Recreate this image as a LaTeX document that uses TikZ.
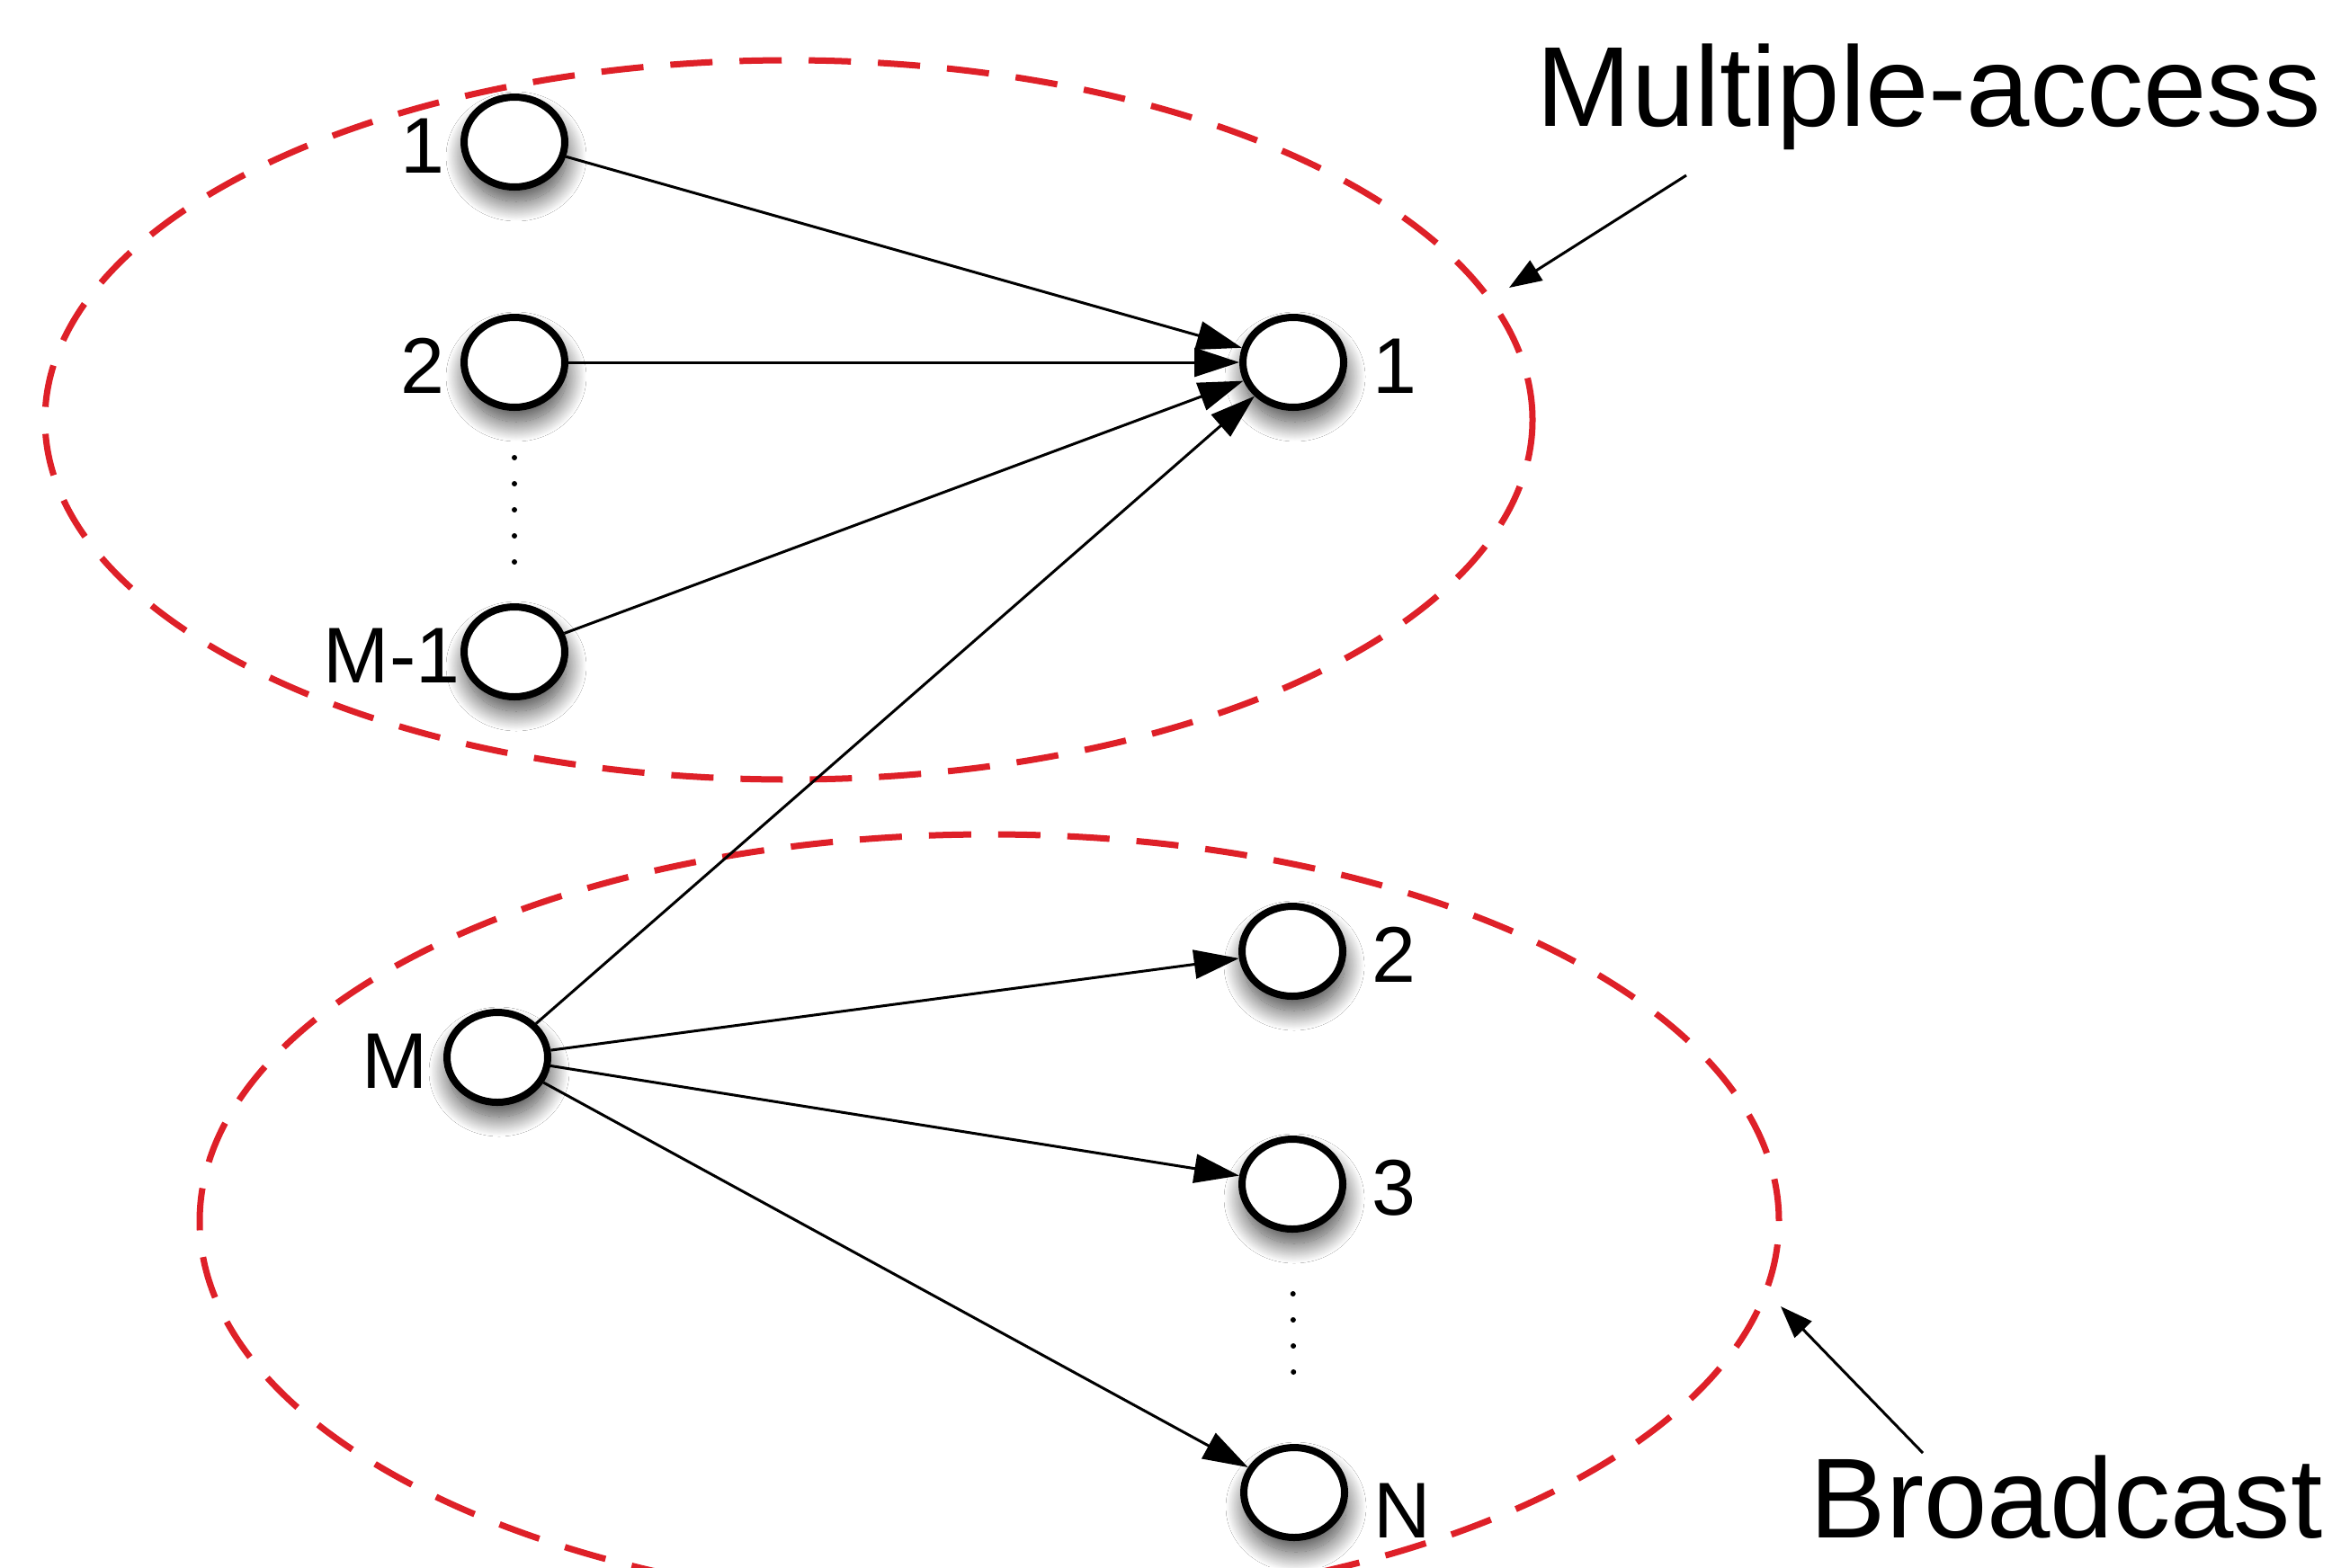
\documentclass[tikz,border=0pt]{standalone}
\usepackage{fontspec}
\setmainfont{Liberation Sans}
\usetikzlibrary{arrows.meta,shapes.geometric,shadows.blur}
\definecolor{groupred}{RGB}{222,32,40}
\begin{document}
\begin{tikzpicture}[
  station/.style={ellipse, draw=black, line width=0.08cm, fill=white,
    minimum width=1.12cm, minimum height=1.0cm, inner sep=0pt,
    blur shadow={shadow xshift=0.02cm, shadow yshift=-0.16cm,
      shadow blur radius=0.22cm, shadow blur steps=30, shadow opacity=75}},
  lab/.style={font=\fontsize{25pt}{28pt}\selectfont, inner sep=0pt},
  llab/.style={label={[lab, yshift=-0.04cm, label distance=0.17cm]left:#1}},
  rlab/.style={label={[lab, yshift=-0.04cm, label distance=0.28cm]right:#1}},
  link/.style={line width=0.03cm, -{Triangle[length=0.5cm,width=0.32cm]}},
  pointer/.style={line width=0.03cm, -{Triangle[length=0.36cm,width=0.26cm]}},
  group/.style={draw=groupred, line width=0.07cm,
    dash pattern=on 0.47cm off 0.3cm},
  dotsline/.style={line width=0.06cm, line cap=round,
    dash pattern=on 0pt off 0.29cm},
  caption/.style={font=\fontsize{36pt}{40pt}\selectfont, inner sep=0pt}
]
\useasboundingbox (0,0) rectangle (26.13,-17.43);
\clip (0,0) rectangle (26.13,-17.43);
\fill[white] (0,0) rectangle (26.13,-17.43);

% the two groups of stations
\draw[group] (8.77,-4.67) ellipse [x radius=8.27cm, y radius=4.0cm];
\draw[group] (11.0,-13.58) ellipse [x radius=8.78cm, y radius=4.3cm];

% senders
\node[station, llab=1] (l1) at (5.72,-1.58) {};
\node[station, llab=2] (l2) at (5.72,-4.03) {};
\node[station, label={[lab, yshift=-0.04cm, label distance=0.0cm]left:M-1}] (lm1) at (5.72,-7.25) {};
\node[station, llab=M] (m) at (5.53,-11.76) {};

% receivers
\node[station, rlab=1] (r1) at (14.38,-4.03) {};
\node[station, rlab=2] (r2) at (14.37,-10.58) {};
\node[station, rlab=3] (r3) at (14.37,-13.17) {};
\node[station, label={[lab, yshift=-0.2cm, label distance=0.28cm]right:N}] (rn) at (14.39,-16.60) {};

% omitted stations
\draw[dotsline, shorten <=0.52cm, shorten >=0.41cm] (l2) -- (lm1);
\draw[dotsline, shorten <=0.68cm, shorten >=0.52cm] (r3) -- (rn);

% links
\draw[link] (l1) -- (r1);
\draw[link] (l2) -- (r1);
\draw[link] (lm1) -- (r1);
\draw[link] (m) -- (r1);
\draw[link] (m) -- (r2);
\draw[link] (m) -- (r3);
\draw[link] (m) -- (rn);

% captions
\node[caption, anchor=base west] (macap) at (17.08,-1.40) {Multiple-access};
\node[caption, anchor=base west] (bccap) at (20.12,-17.10) {Broadcast};
\coordinate (mafrom) at (18.75,-1.95);
\coordinate (mato) at (16.78,-3.20);
\coordinate (bcfrom) at (21.38,-16.16);
\coordinate (bcto) at (19.80,-14.53);
\draw[pointer] (mafrom) -- (mato);
\draw[pointer] (bcfrom) -- (bcto);
\end{tikzpicture}
\end{document}
